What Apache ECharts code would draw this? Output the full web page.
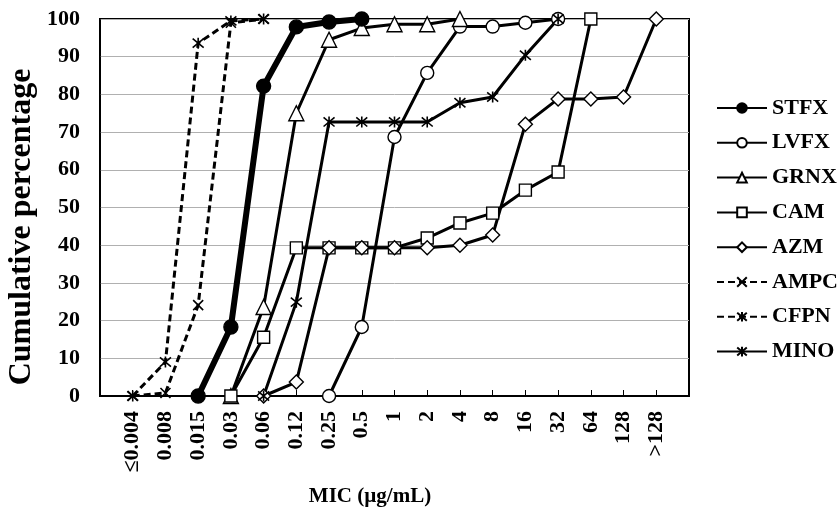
<!DOCTYPE html>
<html>
<head>
<meta charset="utf-8">
<script src="https://cdn.jsdelivr.net/npm/echarts@6/dist/echarts.min.js"></script>
<style>
  html, body { margin: 0; padding: 0; background: #fff; }
  #chart { width: 838px; height: 516px; }
</style>
</head>
<body>
<div id="chart"></div>
<script>
// MIC 分类（x 轴）
var categories = ['≤0.004', '0.008', '0.015', '0.03', '0.06', '0.12', '0.25', '0.5', '1', '2', '4', '8', '16', '32', '64', '128', '>128'];
var yTicks = [0, 10, 20, 30, 40, 50, 60, 70, 80, 90, 100];

// 各药物累计百分比，null = 无点
var stfx = [null, null, 0, 18.3, 82.2, 97.9, 99.2, 100, null, null, null, null, null, null, null, null, null];
var lvfx = [null, null, null, null, null, null, 0, 18.3, 68.7, 85.7, 98, 98, 99, 100, null, null, null];
var grnx = [null, null, null, 0, 23.6, 75, 94.5, 97.6, 98.6, 98.6, 100, null, null, null, null, null, null];
var cam  = [null, null, null, 0, 15.6, 39.3, 39.3, 39.3, 39.3, 41.9, 45.9, 48.5, 54.6, 59.4, 100, null, null];
var azm  = [null, null, null, null, 0, 3.7, 39.3, 39.3, 39.3, 39.3, 40, 42.7, 72.1, 78.8, 78.8, 79.3, 100];
var ampc = [0, 0.8, 24.1, 99, 100, null, null, null, null, null, null, null, null, null, null, null, null];
var cfpn = [0, 9, 93.6, 99.5, 100, null, null, null, null, null, null, null, null, null, null, null, null];
var mino = [null, null, null, null, 0, 24.9, 72.7, 72.7, 72.7, 72.7, 77.8, 79.3, 90.4, 100, null, null, null];

var FONT = "'Liberation Serif', 'Times New Roman', serif";
var X_MARK = 'path://M0,0L10,10M10,0L0,10';
var STAR_MARK = 'path://M0,0L10,10M10,0L0,10M5,-1L5,11';

// 把数组变成 [索引, 值]
function pts(arr) {
  var out = [];
  arr.forEach(function (v, i) {
    if (v !== null) out.push([i, v]);
  });
  return out;
}

function mkSeries(name, arr, symbol, size, opts) {
  opts = opts || {};
  return {
    name: name,
    type: 'line',
    data: pts(arr),
    symbol: symbol,
    symbolSize: size,
    showAllSymbol: true,
    lineStyle: { color: '#000', width: opts.width || 3, type: opts.dash ? [7, 4] : 'solid' },
    itemStyle: {
      color: opts.fill || '#fff',
      borderColor: '#000',
      borderWidth: opts.border || 1.4
    },
    emphasis: { disabled: true },
    z: opts.z || 2
  };
}

var chart = echarts.init(document.getElementById('chart'));
var option = {
  backgroundColor: '#fff',
  animation: false,
  textStyle: { fontFamily: FONT },
  grid: {
    left: 100, top: 19, right: 149, bottom: 120,
    show: true, borderColor: '#000', borderWidth: 2
  },
  legend: {
    orient: 'vertical',
    left: 711,
    top: 92,
    itemWidth: 50,
    itemHeight: 12,
    itemGap: 12.8,
    textStyle: { fontFamily: FONT, fontWeight: 'bold', fontSize: 22, color: '#000' },
    data: ['STFX', 'LVFX', 'GRNX', 'CAM', 'AZM', 'AMPC', 'CFPN', 'MINO']
  },
  xAxis: {
    type: 'value',
    min: -1,
    max: 17,
    interval: 1,
    axisLine: { lineStyle: { color: '#000', width: 2 } },
    axisTick: { inside: true, length: 6, lineStyle: { color: '#000' } },
    splitLine: { show: false },
    axisLabel: {
      rotate: 90,
      margin: 15,
      fontFamily: FONT,
      fontWeight: 'bold',
      fontSize: 22,
      color: '#000',
      formatter: function (v) { return categories[v] || ''; }
    }
  },
  yAxis: {
    type: 'value',
    min: 0,
    max: 100,
    interval: 10,
    axisLine: { show: true, onZero: false, lineStyle: { color: '#000', width: 1.5 } },
    axisTick: { show: false },
    splitLine: { lineStyle: { color: '#b0b0b0', width: 1 } },
    axisLabel: {
      margin: 20,
      fontFamily: FONT,
      fontWeight: 'bold',
      fontSize: 22,
      color: '#000',
      formatter: function (v) { return yTicks.indexOf(v) >= 0 ? String(v) : ''; }
    }
  },
  graphic: [
    {
      type: 'text',
      x: 22, y: 227,
      rotation: Math.PI / 2,
      style: {
        text: 'Cumulative percentage',
        font: 'bold 32px ' + FONT,
        fill: '#000',
        align: 'center',
        verticalAlign: 'middle'
      }
    },
    {
      type: 'text',
      x: 370, y: 497,
      style: {
        text: 'MIC (µg/mL)',
        font: 'bold 21px ' + FONT,
        fill: '#000',
        align: 'center',
        verticalAlign: 'middle'
      }
    }
  ],
  series: [
    mkSeries('STFX', stfx, 'circle', 14, { fill: '#000', width: 6, z: 5 }),
    mkSeries('LVFX', lvfx, 'circle', 13),
    mkSeries('GRNX', grnx, 'triangle', 15),
    mkSeries('CAM', cam, 'rect', 12),
    mkSeries('AZM', azm, 'diamond', 14),
    mkSeries('AMPC', ampc, X_MARK, 10, { dash: true, border: 1.6 }),
    mkSeries('CFPN', cfpn, STAR_MARK, 11, { dash: true, border: 1.6 }),
    mkSeries('MINO', mino, STAR_MARK, 11, { border: 1.6 })
  ]
};
chart.setOption(option);
</script>
</body>
</html>
